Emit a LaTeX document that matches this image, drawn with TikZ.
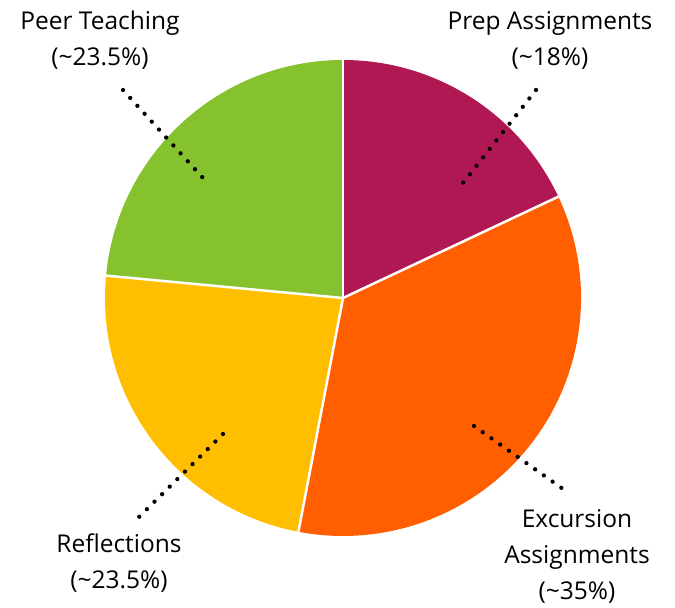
\documentclass[tikz,border=0pt]{standalone}
\usepackage{fontspec}
\setmainfont{Open Sans}
\usepackage{xcolor}
\usetikzlibrary{positioning}

\definecolor{prepcol}{HTML}{B01854}
\definecolor{excol}{HTML}{FF5F00}
\definecolor{reflcol}{HTML}{FFBF00}
\definecolor{peercol}{HTML}{86C22E}

\begin{document}
\begin{tikzpicture}[
  x=1pt, y=1pt,
  slice/.style={draw=white, line width=2.5pt, line join=round},
  lbl/.style={align=center, font=\fontsize{24.5}{36}\selectfont, inner sep=0pt},
  dots/.style={line width=4.3pt, line cap=round, dash pattern=on 0pt off 10.7pt}
]
\useasboundingbox (0,0) rectangle (675,608);
\coordinate (c) at (343,310);
% slices, clockwise from the top
\fill[prepcol] (c) -- ++(90:238) arc[start angle=90, end angle=25.2, radius=238] -- cycle;
\fill[excol] (c) -- ++(25.2:238) arc[start angle=25.2, end angle=-100.8, radius=238] -- cycle;
\fill[reflcol] (c) -- ++(-100.8:238) arc[start angle=-100.8, end angle=-185.4, radius=238] -- cycle;
\fill[peercol] (c) -- ++(174.6:238) arc[start angle=174.6, end angle=90, radius=238] -- cycle;
\foreach \a in {90, 25.2, -100.8, 174.6}
  \draw[slice] (c) -- ++(\a:238);

% labels
\node[lbl] (peer) at (100,568) {Peer Teaching\\(\char`\~23.5\%)};
\node[lbl] (prep) at (550,568) {Prep Assignments\\(\char`\~18\%)};
\node[lbl] (exc) at (577,52) {Excursion\\Assignments\\(\char`\~35\%)};
\node[lbl] (refl) at (119,45) {Reflections\\(\char`\~23.5\%)};

% leader dots
\coordinate (peerA) at (123,518);
\coordinate (peerB) at (203,430);
\coordinate (prepA) at (536,518);
\coordinate (prepB) at (463,425);
\coordinate (excA) at (474,182);
\coordinate (excB) at (563,119);
\coordinate (reflA) at (223,174);
\coordinate (reflB) at (139,91);
\draw[dots] (peerA) -- (peerB);
\draw[dots] (prepA) -- (prepB);
\draw[dots] (excA) -- (excB);
\draw[dots] (reflA) -- (reflB);
\end{tikzpicture}
\end{document}
